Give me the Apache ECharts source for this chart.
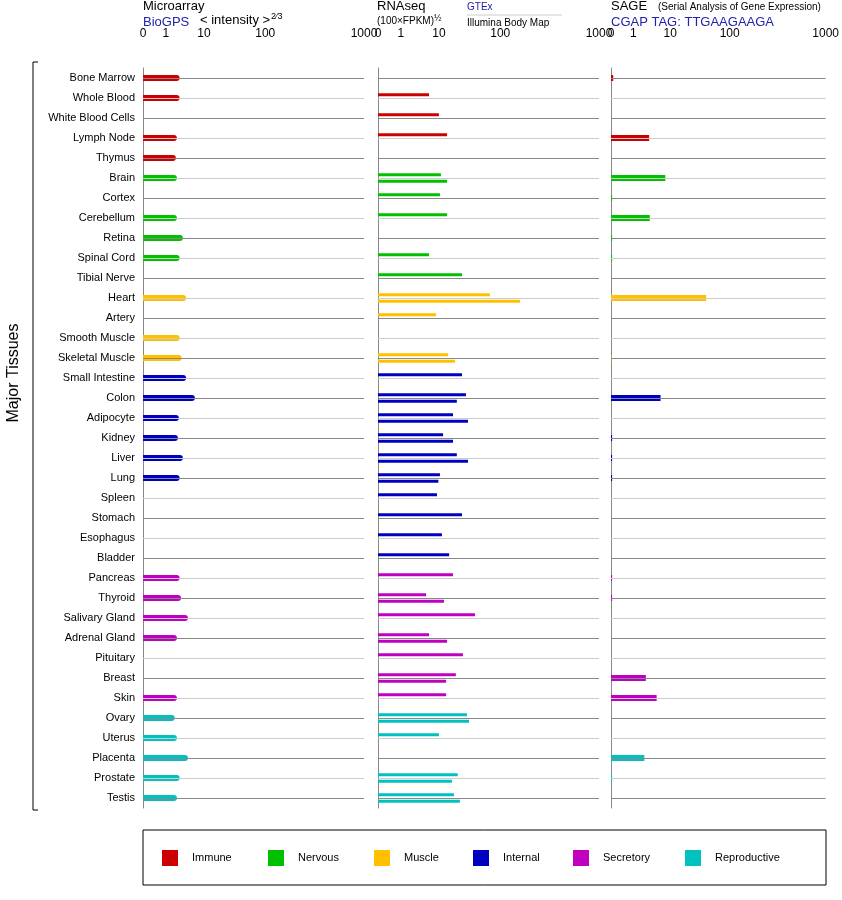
<!DOCTYPE html>
<html><head><meta charset="utf-8">
<script src="https://cdn.jsdelivr.net/npm/echarts@6/dist/echarts.min.js"></script>
<style>body{margin:0;background:#fff}#chart-container{width:842px;height:900px}</style>
</head><body><div id="chart-container"></div>
<script>
var tissues = ["Bone Marrow","Whole Blood","White Blood Cells","Lymph Node","Thymus","Brain","Cortex","Cerebellum","Retina","Spinal Cord","Tibial Nerve","Heart","Artery","Smooth Muscle","Skeletal Muscle","Small Intestine","Colon","Adipocyte","Kidney","Liver","Lung","Spleen","Stomach","Esophagus","Bladder","Pancreas","Thyroid","Salivary Gland","Adrenal Gland","Pituitary","Breast","Skin","Ovary","Uterus","Placenta","Prostate","Testis"];
var groupOf = [0,0,0,0,0,1,1,1,1,1,1,2,2,2,2,3,3,3,3,3,3,3,3,3,3,4,4,4,4,4,4,4,5,5,5,5,5];
var groupNames = ["Immune","Nervous","Muscle","Internal","Secretory","Reproductive"];
var groupColors = ["#cc0000","#00c000","#ffc000","#0000c0","#c000c0","#00c0c0"];
var tickLabels = [0,1,10,100,1000];

// raw values (null = no bar)
var microarray = [2.3,2.3,null,1.95,1.83,1.95,null,1.95,2.8,2.3,null,3.4,null,2.3,2.6,3.4,5.8,2.2,2.07,2.8,2.3,null,null,null,null,2.3,2.5,3.8,1.95,null,null,1.95,1.7,1.95,3.8,2.3,1.95];
var rnaseqA = [null,5.5,10,13.6,null,10.8,10.4,13.6,null,5.5,23.8,68,8.4,null,14.2,23.8,27.6,17,11.7,19.6,10.4,8.9,23.8,11.2,14.7,17,4.6,38.9,5.5,24.7,18.9,13.1,28.7,10,null,20.3,17.6];
var rnaseqB = [null,null,null,null,null,13.6,null,null,null,null,null,159,null,null,18.4,null,19.6,29.8,17,29.8,9.7,null,null,null,null,null,12.1,null,13.6,null,13.1,null,31,null,null,16.3,22];
var sage = [0.1,null,null,2.7,null,7.4,0.05,2.8,0.05,0.05,null,40.3,null,null,0.02,null,5.5,null,0.05,0.05,0.05,null,null,null,null,0.05,0.05,null,null,null,2.2,4.3,null,null,2.0,0.05,null];

// axis position (0..1000) of a raw value, piecewise on the tick marks
function pos(v) {
  if (v == null) return null;
  if (v <= 1) return v * 103.5;
  var l = Math.log10(v);
  if (l <= 1) return 103.5 + l * 172;
  if (l <= 2) return 275.5 + (l - 1) * 277.5;
  return 553 + (l - 2) * 447;
}
var tickPos = tickLabels.map(pos);

function colored(arr, w) {
  return arr.map(function (v, i) {
    return { value: pos(v), itemStyle: { color: groupColors[groupOf[i]] } };
  });
}

var lefts = [143, 378, 611];
var grids = [], xAxes = [], yAxes = [], series = [];
lefts.forEach(function (l, k) {
  grids.push({ left: l, width: 221, top: 68, height: 740 });
  xAxes.push({
    gridIndex: k, type: "value", position: "top", min: 0, max: 1000, offset: 4,
    splitLine: { show: false },
    axisLine: { lineStyle: { color: "#000" } },
    axisTick: { customValues: tickPos, length: 20, lineStyle: { color: "#000" } },
    axisLabel: {
      customValues: tickPos, color: "#000", fontSize: 12, fontFamily: "Liberation Sans", margin: 24,
      formatter: function (v) { var i = tickPos.indexOf(v); return i < 0 ? "" : String(tickLabels[i]); }
    }
  });
  yAxes.push({
    gridIndex: k, type: "category", data: tissues, inverse: true,
    axisLine: { lineStyle: { color: "#888" } }, axisTick: { show: false },
    axisLabel: { show: k === 0, color: "#000", fontSize: 11, fontFamily: "Liberation Sans", margin: 8 }
  });
  series.push({
    type: "line", xAxisIndex: k, yAxisIndex: k, data: [], silent: true, z: 1,
    markLine: {
      symbol: ["none", "none"], silent: true, animation: false, label: { show: false },
      data: tissues.map(function (t, i) {
        return { yAxis: t, lineStyle: { type: "solid", width: 1, color: i % 2 ? "#cccccc" : "#888888" } };
      })
    }
  });
});
series.push({ type: "bar", xAxisIndex: 0, yAxisIndex: 0, z: 3, barWidth: 6, data: colored(microarray),
  itemStyle: { borderRadius: [0, 3, 3, 0] } });
series.push({ type: "bar", xAxisIndex: 1, yAxisIndex: 1, z: 3, barWidth: 3, barGap: "120%", data: colored(rnaseqA) });
series.push({ type: "bar", xAxisIndex: 1, yAxisIndex: 1, z: 3, barWidth: 3, barGap: "120%", data: colored(rnaseqB) });
series.push({ type: "bar", xAxisIndex: 2, yAxisIndex: 2, z: 3, barWidth: 6, data: colored(sage) });

var f = "Liberation Sans";
var graphic = [
  { type: "text", left: 143, top: 0, style: { text: "Microarray", font: "13px " + f, fill: "#000" } },
  { type: "text", left: 143, top: 16, style: { text: "BioGPS", font: "13px " + f, fill: "#2222aa" } },
  { type: "text", left: 200, top: 12, style: { text: "< intensity >{s|2⁄3}", font: "13px " + f, fill: "#000",
    rich: { s: { fontSize: 9, verticalAlign: "top", padding: [0, 0, 8, 1] } } } },
  { type: "text", left: 377, top: 0, style: { text: "RNAseq", font: "13px " + f, fill: "#000" } },
  { type: "text", left: 377, top: 14, style: { text: "(100×FPKM){s|½}", font: "10px " + f, fill: "#000",
    rich: { s: { fontSize: 9, padding: [0, 0, 6, 0] } } } },
  { type: "text", left: 467, top: 2, style: { text: "GTEx", font: "10px " + f, fill: "#2222aa" } },
  { type: "line", shape: { x1: 467, y1: 15, x2: 562, y2: 15 }, style: { stroke: "#ccc" } },
  { type: "text", left: 467, top: 18, style: { text: "Illumina Body Map", font: "10px " + f, fill: "#000" } },
  { type: "text", left: 611, top: 0, style: { text: "SAGE", font: "13px " + f, fill: "#000" } },
  { type: "text", left: 658, top: 2, style: { text: "(Serial Analysis of Gene Expression)", font: "10px " + f, fill: "#000" } },
  { type: "text", left: 611, top: 16, style: { text: "CGAP TAG: TTGAAGAAGA", font: "13px " + f, fill: "#2222aa" } },
  { type: "text", x: 14, y: 373, rotation: Math.PI / 2, style: { text: "Major Tissues", font: "16px " + f, fill: "#000", align: "center", verticalAlign: "middle" } },
  { type: "polyline", shape: { points: [[38, 62], [33, 62], [33, 810], [38, 810]] }, style: { stroke: "#000", fill: null } },
  { type: "rect", shape: { x: 143, y: 830, width: 683, height: 55 }, style: { stroke: "#000", fill: "#fff" } }
];
var legendX = [162, 268, 374, 473, 573, 685];
groupNames.forEach(function (g, i) {
  graphic.push({ type: "rect", shape: { x: legendX[i], y: 850, width: 16, height: 16 }, style: { fill: groupColors[i] } });
  graphic.push({ type: "text", left: legendX[i] + 30, top: 852, style: { text: g, font: "11px " + f, fill: "#000" } });
});

var myChart = echarts.init(document.getElementById("chart-container"), null, { renderer: "canvas" });
myChart.setOption({
  animation: false,
  grid: grids, xAxis: xAxes, yAxis: yAxes, series: series, graphic: graphic
});
window.addEventListener("resize", myChart.resize);
</script></body></html>
